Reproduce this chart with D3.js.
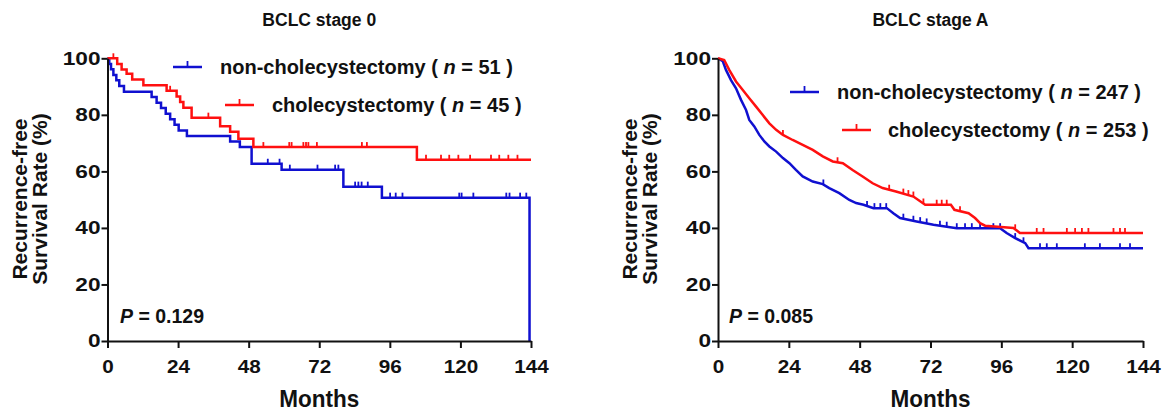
<!DOCTYPE html>
<html>
<head>
<meta charset="utf-8">
<script src="https://cdn.jsdelivr.net/npm/d3@7"></script>
<style>
  body { margin: 0; background: #fff; }
  text { font-family: "Liberation Sans", Arial, sans-serif; font-weight: bold; fill: #111; }
</style>
</head>
<body>
<script>
// ---- data: [month, survival %] ----
var monthTicks = [0, 24, 48, 72, 96, 120, 144];
var rateTicks = [0, 20, 40, 60, 80, 100];
var panelTitles = ['BCLC stage 0', 'BCLC stage A'];
var pValues = ['0.129', '0.085'];
var nonCholeN = [51, 247];
var choleN = [45, 253];

var stage0Non = [[0,100],[0.6,98],[1.2,96.1],[2,94.1],[3,92.2],[4,90.2],[5.6,88.2],[15,86.3],[16.7,84.3],
  [18.2,82.4],[19.8,80.4],[21.3,78.4],[22.8,76.5],[24.2,74.5],[27,72.5],[41.7,70.6],[45,68.6],[49,62.7],
  [59.2,60.6],[80.2,54.6],[93.3,50.7],[143.5,0]];
var stage0NonCensor = [54.5, 58.5, 62, 71.4, 77.4, 78.5, 84.2, 85.3, 86.4, 88.5, 96.1, 98, 100.3, 119.6,
  120.4, 124.4, 135.6, 136.7, 140.3, 142.4];

var stage0Chole = [[0,100],[3.3,98],[4.8,96],[6.5,94.5],[8.4,92.5],[12.2,90.5],[20.1,88.5],[23.5,86.5],
  [24.7,84.5],[25.8,82.5],[28.6,79],[38.3,76],[41.7,74],[44.5,71.5],[49.6,68.6],[105.2,64.1],[144,64.1]];
var stage0CholeCensor = [2, 21.3, 34.3, 53, 61.8, 62.6, 66.6, 67.5, 68.3, 71.2, 86.5, 88.2, 108.3, 113.4,
  116.2, 119.3, 123.3, 130.4, 133.2, 136.3, 139.4];

var stageANon = [[0,100],[1.6,99],[2.7,95.9],[4.4,92.3],[6.1,89.4],[7.8,85.3],[9.5,81.7],[10.6,78.2],
  [12.3,75.9],[14,72.9],[15.7,70.6],[17.4,68.8],[19.7,67],[22,64.7],[24.2,62.9],[26.4,60.5],[28.7,58.2],
  [32.1,56.4],[35.5,55.5],[37.7,54.1],[41.1,52.3],[44.5,49.9],[46.8,48.8],[49.3,48.2],[52.7,47],[57.2,47],
  [59.4,45.2],[61.7,43.5],[67.3,42.3],[73,41.1],[80.9,39.9],[95.6,39.9],[97.8,38.2],[100.7,36.4],
  [104.1,34.6],[105.2,32.8],[144,32.8]];
var stageANonCensor = [35.7, 50.5, 53, 55, 57, 62.8, 66.2, 68.5, 70.7, 75.2, 77.5, 80.9, 83.7, 86, 88.8,
  93.3, 95.6, 100.7, 103.5, 109.1, 111.4, 114.8, 124.3, 129.4, 136.2, 139.6];

var stageAChole = [[0,100],[2.1,99.4],[3.8,95.9],[6.1,91.8],[8.4,88.8],[10.6,85.9],[12.9,82.9],[15.1,80],
  [17.4,77],[19.7,74.7],[22,72.9],[25.3,71.1],[28.7,69.4],[32.1,67.6],[35.5,65.3],[38.9,63.5],[42.3,62.9],
  [45.6,60.5],[49,58.2],[52.4,55.8],[55.8,54.1],[60.3,52.9],[66.2,51.1],[70.2,48.2],[78.9,48.2],[80.1,46.4],
  [84.9,45.2],[87.1,43.5],[88.8,41.7],[90.5,40.8],[100.1,40],[102.3,38.2],[144,38.2]];
var stageACholeCensor = [22, 40.5, 58, 62.8, 64.5, 66.2, 69.6, 74.1, 75.8, 77.5, 82, 100.7, 108, 110.3,
  118.2, 121, 123.3, 125.5, 134, 136.2, 137.9];

var blue = '#1010d0', red = '#ff1010';

var svg = d3.select('body').append('svg')
  .attr('width', 1170)
  .attr('height', 412);

// value of a curve at month m (step or linear)
function valueAt(pts, m, stepped) {
  for (var i = pts.length - 1; i >= 0; i--) {
    if (pts[i][0] <= m) {
      if (stepped || i === pts.length - 1) return pts[i][1];
      var a = pts[i], b = pts[i + 1];
      return a[1] + (b[1] - a[1]) * (m - a[0]) / (b[0] - a[0]);
    }
  }
  return pts[0][1];
}

var panels = [
  { x0: 107.5, x1: 531, labelX: 27, pX: 120,
    legend: [{ x: 173, y: 67, tx: 220 }, { x: 225, y: 105, tx: 272 }],
    curves: [stage0Non, stage0Chole], censors: [stage0NonCensor, stage0CholeCensor], stepped: true },
  { x0: 718, x1: 1143, labelX: 637, pX: 729,
    legend: [{ x: 790, y: 92, tx: 837 }, { x: 842, y: 130, tx: 888 }],
    curves: [stageANon, stageAChole], censors: [stageANonCensor, stageACholeCensor], stepped: false }
];

panels.forEach(function(p, pi) {
  var x = d3.scaleLinear().domain([0, 144]).range([p.x0, p.x1]);
  var y = d3.scaleLinear().domain([0, 100]).range([341, 58.3]);
  var g = svg.append('g');
  var colors = [blue, red];

  // curves
  var line = d3.line()
    .x(function(d) { return x(d[0]); })
    .y(function(d) { return y(d[1]); })
    .curve(p.stepped ? d3.curveStepAfter : d3.curveLinear);

  p.curves.forEach(function(c, ci) {
    g.append('path')
      .datum(c)
      .attr('d', line)
      .attr('fill', 'none')
      .attr('stroke', colors[ci])
      .attr('stroke-width', 2.5);

    g.selectAll('line.censor' + ci)
      .data(p.censors[ci])
      .enter()
      .append('line')
      .attr('x1', function(d) { return x(d); })
      .attr('x2', function(d) { return x(d); })
      .attr('y1', function(d) { return y(valueAt(c, d, p.stepped)); })
      .attr('y2', function(d) { return y(valueAt(c, d, p.stepped)) - 5; })
      .attr('stroke', colors[ci])
      .attr('stroke-width', 1.8);
  });

  // axes
  var xAxis = g.append('g')
    .attr('transform', 'translate(0,341)')
    .call(d3.axisBottom(x).tickValues(monthTicks).tickSize(7).tickPadding(12).tickSizeOuter(0));
  var yAxis = g.append('g')
    .attr('transform', 'translate(' + p.x0 + ',0)')
    .call(d3.axisLeft(y).tickValues(rateTicks).tickSize(6).tickPadding(1).tickSizeOuter(0));
  [[xAxis, 11.5], [yAxis, 12.6]].forEach(function(a) {
    a[0].select('.domain').attr('stroke', '#111').attr('stroke-width', 2);
    a[0].selectAll('.tick line').attr('stroke', '#111').attr('stroke-width', 2);
    a[0].selectAll('.tick text')
      .style('font-family', '"Liberation Sans", Arial, sans-serif')
      .style('font-weight', 'bold')
      .style('font-size', '18.5px')
      .attr('textLength', function(d) { return String(d).length * a[1]; })
      .attr('lengthAdjust', 'spacingAndGlyphs')
      .attr('fill', '#111');
  });

  // title
  g.append('text')
    .attr('x', (p.x0 + p.x1) / 2)
    .attr('y', 26)
    .attr('text-anchor', 'middle')
    .style('font-size', '17.5px')
    .text(panelTitles[pi]);

  // x label
  g.append('text')
    .attr('x', (p.x0 + p.x1) / 2)
    .attr('y', 407)
    .attr('text-anchor', 'middle')
    .attr('textLength', 80)
    .attr('lengthAdjust', 'spacingAndGlyphs')
    .style('font-size', '24px')
    .text('Months');

  // y label
  var yl = g.append('text')
    .attr('transform', 'translate(' + p.labelX + ',199) rotate(-90)')
    .attr('text-anchor', 'middle')
    .style('font-size', '21px');
  yl.append('tspan').attr('x', 0).attr('y', 0).text('Recurrence-free');
  yl.append('tspan').attr('x', 0).attr('y', 20).text('Survival Rate (%)');

  // p value
  var pt = g.append('text')
    .attr('x', p.pX)
    .attr('y', 323)
    .style('font-size', '19.5px');
  pt.append('tspan').style('font-style', 'italic').text('P');
  pt.append('tspan').text(' = ' + pValues[pi]);

  // legend
  var names = ['non-cholecystectomy', 'cholecystectomy'];
  var ns = [nonCholeN[pi], choleN[pi]];
  p.legend.forEach(function(l, li) {
    g.append('line')
      .attr('x1', l.x).attr('x2', l.x + 29)
      .attr('y1', l.y).attr('y2', l.y)
      .attr('stroke', colors[li]).attr('stroke-width', 2.5);
    g.append('line')
      .attr('x1', l.x + 14.5).attr('x2', l.x + 14.5)
      .attr('y1', l.y).attr('y2', l.y - 6)
      .attr('stroke', colors[li]).attr('stroke-width', 1.8);
    var t = g.append('text')
      .attr('x', l.tx)
      .attr('y', l.y + 7)
      .style('font-size', '20px');
    t.append('tspan').text(names[li] + ' ( ');
    t.append('tspan').style('font-style', 'italic').text('n');
    t.append('tspan').text(' = ' + ns[li] + ' )');
  });
});
</script>
</body>
</html>
